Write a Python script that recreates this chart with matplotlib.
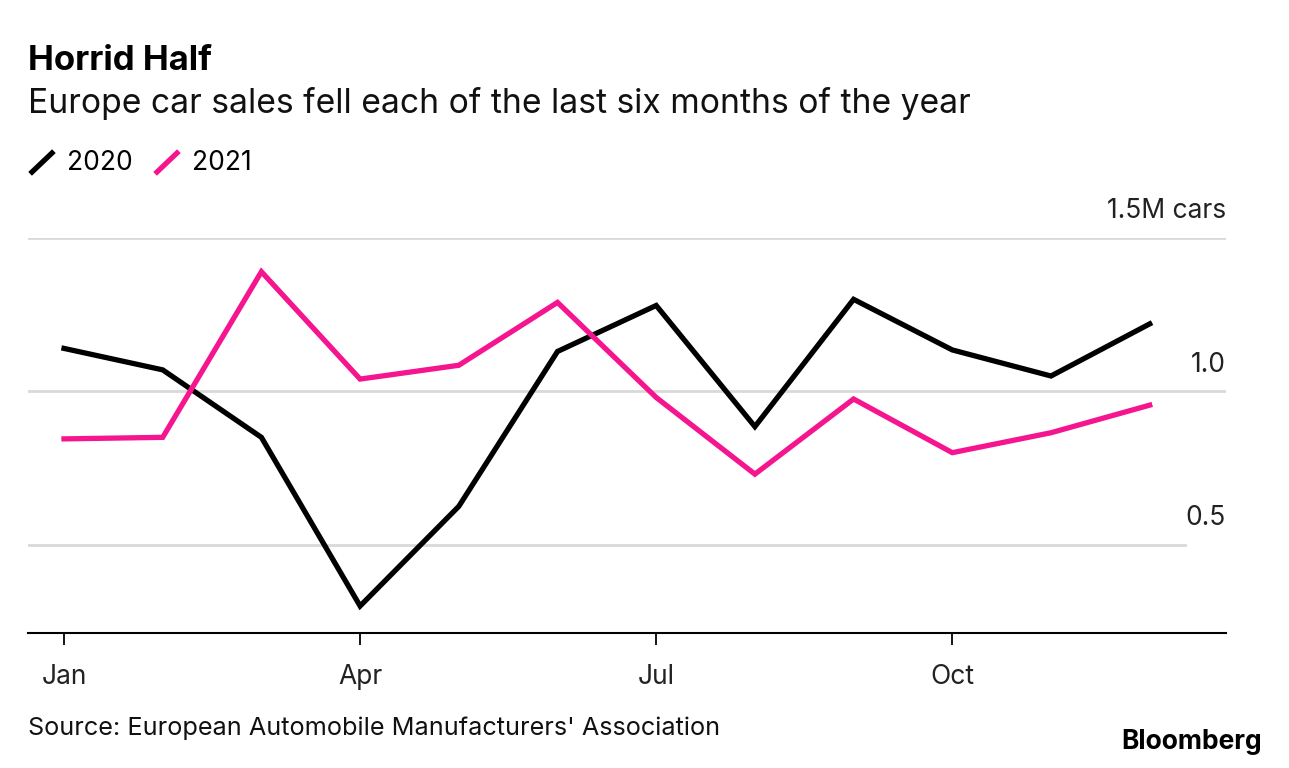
import matplotlib.pyplot as plt
from matplotlib.lines import Line2D

plt.rcParams['font.family'] = ['Inter', 'DejaVu Sans']

# monthly Europe car sales, million cars
months = ['Jan', 'Feb', 'Mar', 'Apr', 'May', 'Jun', 'Jul', 'Aug', 'Sep', 'Oct', 'Nov', 'Dec']
sales_2020 = [1.14, 1.07, 0.85, 0.30, 0.625, 1.13, 1.28, 0.885, 1.30, 1.135, 1.05, 1.22]
sales_2021 = [0.845, 0.85, 1.39, 1.04, 1.085, 1.29, 0.98, 0.73, 0.975, 0.80, 0.865, 0.955]
tick_months = ['Jan', 'Apr', 'Jul', 'Oct']
y_ticks = [0.5, 1.0, 1.5]
y_labels = ['0.5', '1.0', '1.5M cars']

pink = '#f5168f'
grid_col = '#d9d9d9'

fig = plt.figure(figsize=(12.89, 7.68), dpi=100)
ax = fig.add_axes([28 / 1289, (768 - 633) / 768, 1198 / 1289, (633 - 238) / 768])

x = list(range(len(months)))
ax.plot(x, sales_2020, color='black', lw=3.8, solid_joinstyle='miter', zorder=3)
ax.plot(x, sales_2021, color=pink, lw=3.8, solid_joinstyle='miter', zorder=3)

ax.set_xlim(-36 / 98.7, (1226 - 64) / 98.7)
ax.set_ylim(0.212, 1.5)

# gridlines and right-side labels
for val, lab in zip(y_ticks, y_labels):
    xmax = 0.966 if val == 0.5 else 1.0
    ax.axhline(val, xmin=0, xmax=xmax, color=grid_col, lw=2, zorder=1)
    ax.text(1.0, val + 0.045, lab, transform=ax.get_yaxis_transform(),
            ha='right', va='bottom', fontsize=19, color='#222222')

ax.set_yticks([])
ax.set_xticks([months.index(m) for m in tick_months])
ax.set_xticklabels(tick_months, fontsize=19, color='#222222')
ax.tick_params(axis='x', length=8.5, width=1.3, pad=14, color='black')

for s in ['top', 'right', 'left']:
    ax.spines[s].set_visible(False)
ax.spines['bottom'].set_linewidth(1.5)

# titles
fig.text(28 / 1289, 1 - 61 / 768, 'Horrid Half', fontsize=25, fontweight='bold',
         ha='left', va='center')
fig.text(28 / 1289, 1 - 104 / 768, 'Europe car sales fell each of the last six months of the year',
         fontsize=24.2, ha='left', va='center', color='#111111')

# legend
def fx(px):
    return px / 1289

def fy(py):
    return 1 - py / 768

fig.add_artist(Line2D([fx(32), fx(52)], [fy(172), fy(153)], color='black', lw=3.8,
                      transform=fig.transFigure))
fig.text(fx(67), fy(163), '2020', fontsize=19, ha='left', va='center')
fig.add_artist(Line2D([fx(157), fx(177)], [fy(172), fy(153)], color=pink, lw=3.8,
                      transform=fig.transFigure))
fig.text(fx(192), fy(163), '2021', fontsize=19, ha='left', va='center')

# footer
fig.text(fx(28), fy(728), "Source: European Automobile Manufacturers' Association",
         fontsize=18.2, ha='left', va='center', color='#111111')
fig.text(fx(1262), fy(742), 'Bloomberg', fontsize=19, fontweight='bold',
         ha='right', va='center')

fig.savefig('out.png', dpi=100)
